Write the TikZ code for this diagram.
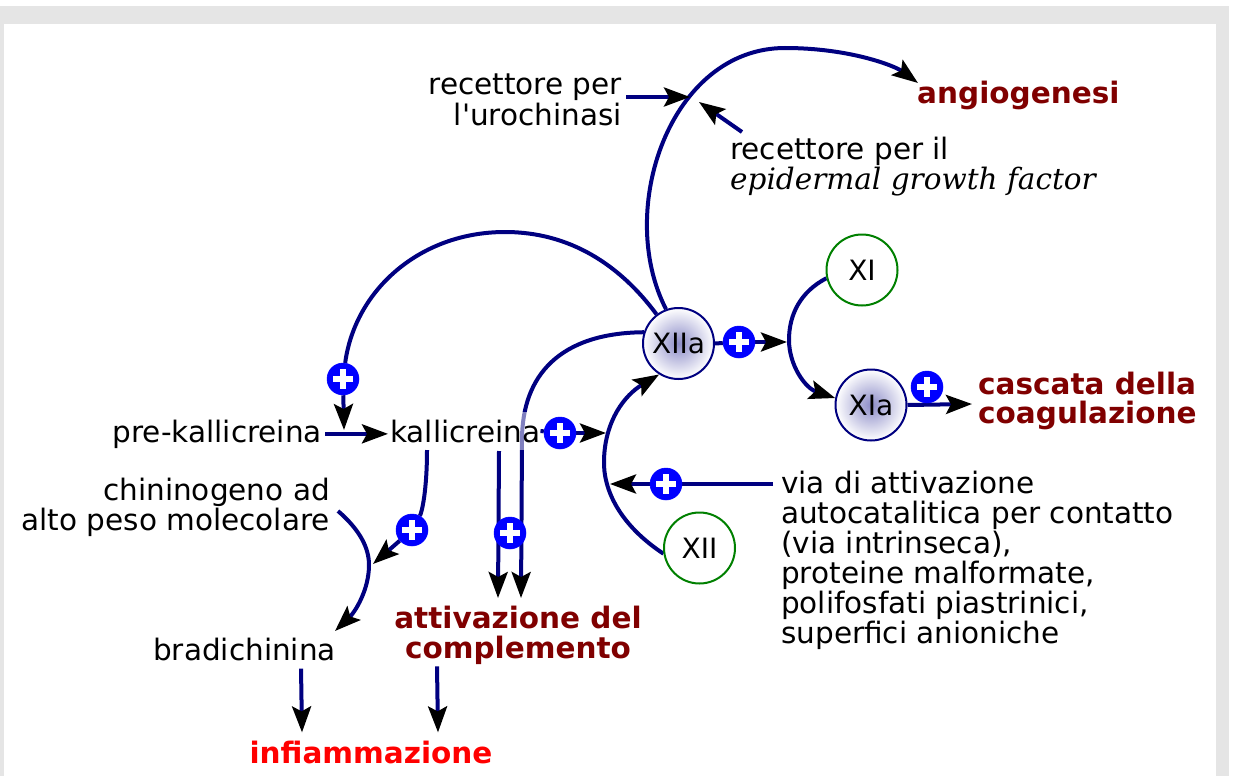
\documentclass[tikz,border=0pt]{standalone}
\usepackage{fontspec}
\setmainfont{DejaVu Sans}
\newfontfamily\egffont{DejaVu Serif}
\usetikzlibrary{arrows.meta,calc}
\pgfdeclarelayer{bg}
\pgfsetlayers{bg,main}
\definecolor{navy}{HTML}{000080}
\definecolor{darkred}{HTML}{800000}
\definecolor{purered}{HTML}{FF0000}
\definecolor{pblue}{HTML}{0000FF}
\definecolor{fgreen}{HTML}{008000}
\definecolor{framegray}{HTML}{E5E5E5}
\definecolor{gradc}{RGB}{140,140,200}
\newcommand\fsz{\fontsize{29.5pt}{30pt}\selectfont}
\begin{document}
\begin{tikzpicture}[x=1pt,y=-1pt,
  conn/.style={draw=navy,line width=4pt},
  tip/.style={-{Stealth[length=26pt,width=19pt,inset=5pt,black]}},
  txt/.style={inner sep=0pt,font=\fsz},
  bld/.style={inner sep=0pt,font=\bfseries\fsz},
  circ/.style={circle,minimum size=71pt,inner sep=0pt,line width=2pt,font=\fontsize{28pt}{28pt}\selectfont},
  inact/.style={circ,draw=fgreen,fill=white},
  act/.style={circ,draw=navy,inner color=gradc,outer color=white},
  plus/.style={circle,fill=pblue,draw=pblue,line width=0.5pt,minimum size=32pt,inner sep=0pt,
    path picture={
      \fill[white] ([xshift=-10pt,yshift=-3pt]path picture bounding box.center) rectangle ([xshift=10pt,yshift=3pt]path picture bounding box.center);
      \fill[white] ([xshift=-3pt,yshift=-10pt]path picture bounding box.center) rectangle ([xshift=3pt,yshift=10pt]path picture bounding box.center);
    }}]
\useasboundingbox (0,0) rectangle (1234,776);
\begin{pgfonlayer}{bg}
\fill[white] (0,0) rectangle (1234,776);
\fill[framegray] (0,6) rectangle (1229,776);
\fill[white] (4,24) rectangle (1216,776);
\end{pgfonlayer}

% text nodes
\node[txt,anchor=base east] (uro1) at (622,95) {recettore per};
\node[txt,anchor=base east] (uro2) at (622,125) {l\textquotesingle urochinasi};
\node[bld,text=darkred,anchor=base west] (angio) at (917,103) {angiogenesi};
\node[txt,anchor=base west] (egf1) at (730,159) {recettore per il};
\node[txt,anchor=base west,font=\egffont\itshape\fsz] (egf2) at (730,189) {epidermal growth factor};
\node[txt,anchor=base east] (prek) at (322,442) {pre-kallicreina};
\node[txt,anchor=base west,inner ysep=8pt,fill=white,fill opacity=0.5,text opacity=1] (kall) at (390,442) {kallicreina};
\node[txt,anchor=base east] (chin1) at (330,500) {chininogeno ad};
\node[txt,anchor=base east] (chin2) at (330,530) {alto peso molecolare};
\node[txt,anchor=base west] (brady) at (153,660) {bradichinina};
\node[bld,text=darkred,anchor=base] (comp1) at (518,628) {attivazione del};
\node[bld,text=darkred,anchor=base] (comp2) at (518,658) {complemento};
\node[bld,text=purered,anchor=base] (infiam) at (371,763) {infiammazione};
\node[bld,text=darkred,anchor=base west] (casc1) at (978,394) {cascata della};
\node[bld,text=darkred,anchor=base west] (casc2) at (978,423) {coagulazione};
\node[txt,anchor=base west] (via1) at (781,493) {via di attivazione};
\node[txt,anchor=base west] (via2) at (781,523) {autocatalitica per contatto};
\node[txt,anchor=base west] (via3) at (781,553) {(via intrinseca),};
\node[txt,anchor=base west] (via4) at (781,583) {proteine malformate,};
\node[txt,anchor=base west] (via5) at (781,613) {polifosfati piastrinici,};
\node[txt,anchor=base west] (via6) at (781,643) {superfici anioniche};

% factor circles
\node[inact] (XI) at (862,270) {XI};
\node[act] (XIIa) at (678.5,343.5) {XIIa};
\node[act] (XIa) at (871,405) {XIa};
\node[inact] (XII) at (699.5,548) {XII};

% plus signs
\node[plus] (p1) at (343,379) {};
\node[plus] (p2) at (560,433) {};
\node[plus] (p3) at (739,342) {};
\node[plus] (p4) at (927,387) {};
\node[plus] (p5) at (666,484) {};
\node[plus] (p6) at (412,530) {};
\node[plus] (p7) at (510,533) {};

% free ends
\coordinate (angTop) at (785,48);
\coordinate (angTip) at (918,83);
\coordinate (uroTip) at (690,97);
\coordinate (egfS) at (742,132);
\coordinate (egfTip) at (699,102);
\coordinate (pkTip) at (344,430);
\coordinate (kxTip) at (606,433);
\coordinate (vxTip) at (610,484);
\coordinate (xaTip) at (787,342);
\coordinate (cascTip) at (972,404);
\coordinate (compR) at (521,598);
\coordinate (kallC) at (499,451);
\coordinate (compL) at (498,598);
\coordinate (kallB) at (427,450);
\coordinate (bradyTip) at (373,564);
\coordinate (chinS) at (338,511);
\coordinate (chinTip) at (335,631);

\begin{pgfonlayer}{bg}
% XIIa -> angiogenesi
\draw[conn,tip] (XIIa.110) .. controls (615,210) and (670,48) .. (angTop)
  .. controls (850,48) and (895,66) .. (angTip);
\draw[conn,tip] ([shift={(4pt,-2pt)}]uro1.base east) -- (uroTip);
\draw[conn,tip] (egfS) -- (egfTip);
% XIIa -> pre-kallicreina
\draw[conn] (XIIa.127) .. controls (620,265) and (570,232) .. (505,232)
  .. controls (420,232) and (355,290) .. (p1);
\draw[conn,tip] (p1) -- (pkTip);
\draw[conn,tip] ([xshift=3pt]prek.east) -- ([xshift=-2pt]kall.west |- prek.east);
% kallicreina -> XII arc
\draw[conn] (kall.east) -- (p2);
\draw[conn,tip] (p2) -- (kxTip);
% XII -> XIIa
\draw[conn,tip] (XII.189) .. controls (620,525) and (603,490) .. (604,460)
  .. controls (605,420) and (625,395) .. (XIIa.238);
% via di attivazione
\draw[conn] ([xshift=-8pt]via1.west |- p5) -- (p5);
\draw[conn,tip] (p5) -- (vxTip);
% XIIa -> XI arc
\draw[conn] (XIIa.east) -- (p3);
\draw[conn,tip] (p3) -- (xaTip);
% XI -> XIa
\draw[conn,tip] (XI.193) .. controls (800,292) and (789,315) .. (789,340)
  .. controls (789,365) and (805,388) .. (XIa.169);
% XIa -> cascata
\draw[conn,tip] (XIa.east) -- (cascTip);
% XIIa -> complemento
\draw[conn,tip] (XIIa.162) .. controls (560,333) and (522,375) .. (522,440) -- (compR);
% kallicreina -> complemento
\draw[conn,tip] (kallC) -- (compL);
% kallicreina -> bradichinina conversion
\draw[conn] (kallB) .. controls (427,490) and (422,512) .. (p6);
\draw[conn,tip] (p6) -- (bradyTip);
% chininogeno -> bradichinina
\draw[conn,tip] (chinS) .. controls (360,530) and (369,548) .. (369,565)
  .. controls (369,590) and (355,612) .. (chinTip);
% to infiammazione
\draw[conn,tip] ([shift={(56.5pt,-8pt)}]brady.south) -- ([shift={(-69pt,8pt)}]infiam.north);
\draw[conn,tip] ([shift={(-81pt,-2pt)}]comp2.south) -- ([shift={(67pt,8pt)}]infiam.north);
\end{pgfonlayer}
\end{tikzpicture}
\end{document}
